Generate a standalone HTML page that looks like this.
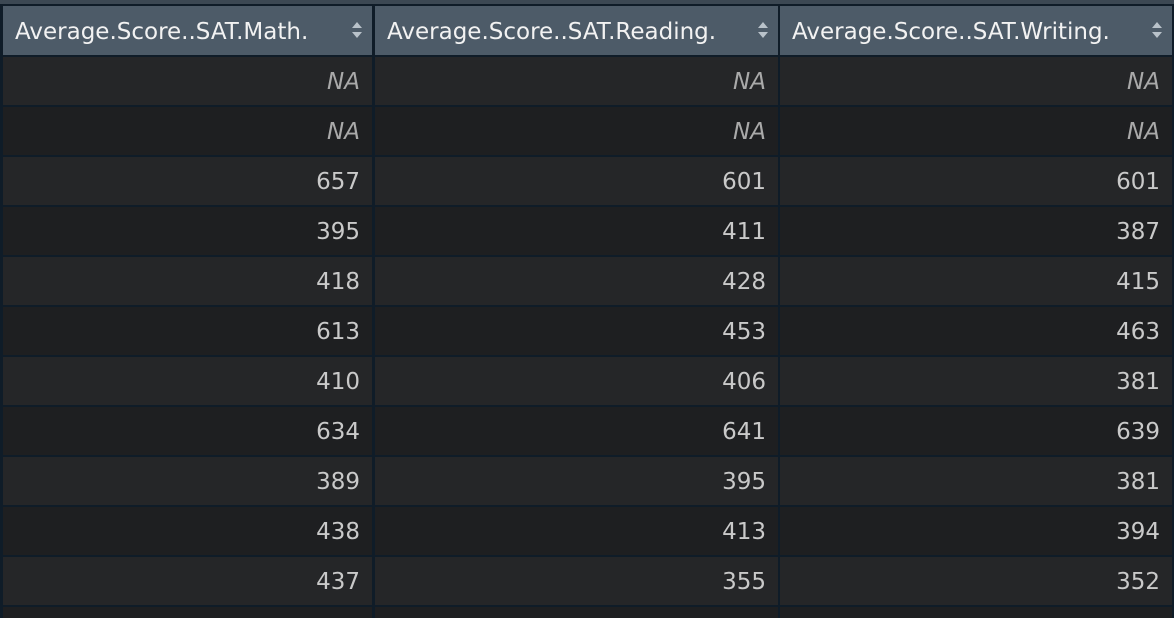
<!DOCTYPE html>
<html style="width:1174px;height:618px;overflow:hidden"><head><style>
body{margin:0;width:1174px;height:618px;overflow:hidden;background:#0f1c28;font-family:"DejaVu Sans","Liberation Sans",sans-serif;position:relative}
.top{position:absolute;left:0;top:0;width:1174px;height:4px;background:#3c4853}
.cell{position:absolute;box-sizing:border-box;font-size:23px;color:#c9c9c9;text-align:right;padding-right:12px;line-height:50px;overflow:hidden}
.hd{position:absolute;box-sizing:border-box;background:#4d5b68;color:#f2f2f2;font-size:23px;line-height:52px;padding-left:12px;white-space:nowrap}
.sort{position:absolute;right:9px;top:12px;width:12px;height:24px}
.na{font-style:italic;color:#a9a9a9}
</style></head><body>
<div class="top"></div>
<div id="t"></div>
<script>
const headers=["Average.Score..SAT.Math.","Average.Score..SAT.Reading.","Average.Score..SAT.Writing."];
const math=[null,null,657,395,418,613,410,634,389,438,437,null];
const reading=[null,null,601,411,428,453,406,641,395,413,355,null];
const writing=[null,null,601,387,415,463,381,639,381,394,352,null];
const cols=[[3,369],[375,403],[780,392]];
const t=document.getElementById('t');
headers.forEach((h,i)=>{
 const d=document.createElement('div');
 d.className='hd';
 
 
 d.style.left=cols[i][0]+'px';d.style.top='6px';d.style.width=cols[i][1]+'px';d.style.height='49px';
 d.innerHTML=h+'<svg class="sort" viewBox="0 0 12 24"><path d="M1 10 L6 4 L11 10Z M1 14 L6 20 L11 14Z" fill="#b9c2ca"/></svg>';
 t.appendChild(d);
});
const series=[math,reading,writing];
for(let r=0;r<12;r++){
 series.forEach((s,i)=>{
  const d=document.createElement('div');
  d.className='cell';
  
  
  d.style.left=cols[i][0]+'px';d.style.top=(57+r*50)+'px';d.style.width=cols[i][1]+'px';
  d.style.height=(r===11?'11px':'48px');
  d.style.background=r%2?'#1e1f21':'#252628';
  if(r<11){ if(s[r]===null){d.innerHTML='<span class="na">NA</span>';} else d.textContent=s[r]; }
  t.appendChild(d);
 });
}
</script>
</body></html>
